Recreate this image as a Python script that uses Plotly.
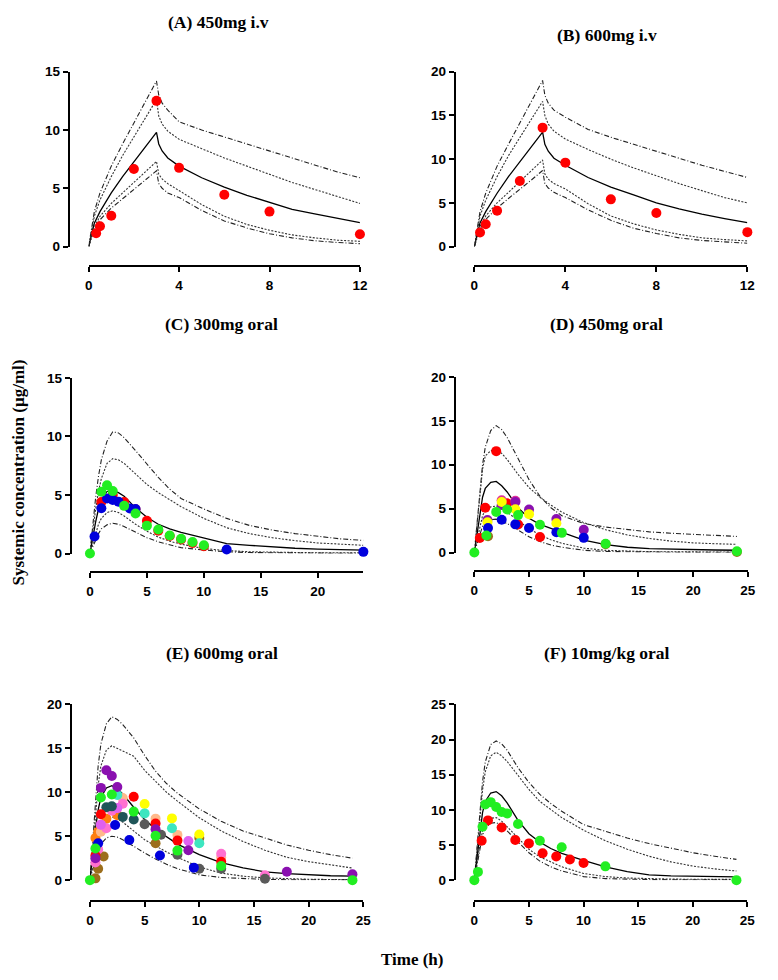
import plotly.graph_objects as go

W, H = 778, 980

# ---------------- DATA ----------------
# IV panels (A, B): time grid for simulated curves
t_iv = [0, 0.25, 0.5, 1, 1.5, 2, 2.5, 3, 3.1, 3.25, 3.5, 4, 5, 6, 7, 8, 9, 10, 11, 12]

A_p95 = [0, 3.0, 4.6, 6.9, 8.8, 10.6, 12.4, 14.2, 13.0, 12.3, 11.7, 10.7, 10.0, 9.4, 8.8, 8.2, 7.6, 7.0, 6.4, 5.9]
A_p90 = [0, 2.6, 4.0, 6.0, 7.8, 9.4, 11.0, 12.6, 11.2, 10.5, 9.9, 9.2, 8.4, 7.6, 6.9, 6.2, 5.5, 4.9, 4.3, 3.7]
A_med = [0, 2.0, 3.0, 4.6, 6.0, 7.3, 8.6, 9.8, 8.8, 8.2, 7.6, 6.9, 5.9, 5.1, 4.4, 3.8, 3.2, 2.8, 2.4, 2.05]
A_p10 = [0, 1.7, 2.6, 3.7, 4.6, 5.5, 6.4, 7.3, 6.2, 5.8, 5.4, 4.8, 3.6, 2.6, 1.9, 1.4, 1.0, 0.75, 0.55, 0.45]
A_p5 = [0, 1.5, 2.3, 3.3, 4.1, 4.9, 5.7, 6.5, 5.4, 5.0, 4.6, 4.2, 3.1, 2.2, 1.6, 1.1, 0.75, 0.5, 0.35, 0.25]
A_obs_t = [0.33, 0.5, 1, 2, 3, 4, 6, 8, 12]
A_obs_y = [1.15, 1.75, 2.65, 6.65, 12.5, 6.75, 4.45, 3.0, 1.05]

B_p95 = [0, 4.0, 6.1, 9.2, 11.7, 14.1, 16.5, 19.0, 17.3, 16.4, 15.6, 14.8, 13.4, 12.5, 11.7, 10.9, 10.1, 9.3, 8.6, 7.9]
B_p90 = [0, 3.5, 5.3, 8.0, 10.4, 12.5, 14.6, 16.6, 15.0, 14.0, 13.2, 12.3, 11.1, 10.0, 9.0, 8.1, 7.2, 6.4, 5.6, 5.0]
B_med = [0, 2.7, 4.0, 6.1, 8.0, 9.7, 11.4, 13.1, 11.7, 10.9, 10.1, 9.3, 7.9, 6.8, 5.9, 5.0, 4.3, 3.7, 3.2, 2.75]
B_p10 = [0, 2.3, 3.5, 5.0, 6.2, 7.4, 8.6, 9.9, 8.3, 7.7, 7.2, 6.6, 4.9, 3.5, 2.6, 1.9, 1.4, 1.0, 0.8, 0.65]
B_p5 = [0, 2.0, 3.1, 4.4, 5.5, 6.5, 7.6, 8.7, 7.2, 6.7, 6.2, 5.6, 4.2, 3.0, 2.1, 1.5, 1.0, 0.7, 0.5, 0.38]
B_obs_t = [0.25, 0.5, 1, 2, 3, 4, 6, 8, 12]
B_obs_y = [1.6, 2.55, 4.1, 7.5, 13.6, 9.6, 5.4, 3.85, 1.65]

# Oral panels (C-F): time grid for simulated curves
t_po = [0, 0.25, 0.5, 0.75, 1, 1.5, 2, 2.5, 3, 4, 5, 6, 7, 8, 10, 12, 14, 16, 18, 20, 22, 24]

C_p95 = [0, 2.5, 4.8, 6.6, 8.0, 9.6, 10.4, 10.3, 9.9, 8.8, 7.6, 6.5, 5.5, 4.7, 3.8, 3.0, 2.4, 2.0, 1.7, 1.45, 1.25, 1.12]
C_p90 = [0, 2.0, 3.8, 5.3, 6.4, 7.7, 8.1, 8.0, 7.7, 6.8, 5.9, 5.2, 4.6, 4.0, 3.0, 2.2, 1.7, 1.35, 1.1, 0.9, 0.8, 0.7]
C_med = [0, 1.4, 2.7, 3.8, 4.6, 5.3, 5.4, 5.2, 4.9, 3.9, 3.1, 2.5, 2.1, 1.8, 1.35, 0.85, 0.7, 0.55, 0.45, 0.38, 0.32, 0.28]
C_p10 = [0, 0.9, 1.8, 2.5, 3.0, 3.5, 3.65, 3.5, 3.2, 2.5, 1.9, 1.4, 1.05, 0.8, 0.42, 0.25, 0.15, 0.1, 0.08, 0.06, 0.05, 0.05]
C_p5 = [0, 0.6, 1.2, 1.7, 2.1, 2.45, 2.58, 2.5, 2.3, 1.8, 1.35, 1.0, 0.72, 0.5, 0.3, 0.15, 0.08, 0.05, 0.03, 0.02, 0.02, 0.02]
C_red_t = [1, 2, 3, 4, 5, 6, 7, 8, 9, 10]
C_red_y = [4.4, 5.0, 4.4, 3.78, 2.8, 1.95, 1.5, 1.2, 0.9, 0.62]
C_blue_t = [0.4, 1, 1.5, 2, 2.5, 3.5, 4, 12, 24]
C_blue_y = [1.46, 3.87, 4.7, 4.57, 4.43, 3.84, 3.8, 0.34, 0.14]
C_green_t = [0, 1, 1.5, 2, 3, 4, 5, 6, 7, 8, 9, 10]
C_green_y = [0, 5.27, 5.83, 5.33, 4.07, 3.42, 2.38, 2.05, 1.54, 1.26, 0.98, 0.7]

D_p95 = [0, 3.5, 7.0, 10.0, 12.0, 13.9, 14.45, 14.0, 13.1, 10.7, 8.3, 6.4, 5.1, 4.2, 3.3, 2.9, 2.6, 2.35, 2.2, 2.05, 1.9, 1.83]
D_p90 = [0, 3.0, 6.5, 9.5, 11.0, 11.6, 11.7, 11.3, 10.6, 8.9, 7.4, 6.3, 5.4, 4.6, 3.4, 2.6, 2.0, 1.6, 1.3, 1.1, 1.0, 0.93]
D_med = [0, 2.2, 4.5, 6.3, 7.3, 8.0, 8.1, 7.6, 6.9, 5.1, 3.9, 3.2, 2.75, 2.3, 1.4, 0.9, 0.6, 0.45, 0.38, 0.33, 0.29, 0.26]
D_p10 = [0, 1.5, 3.0, 4.2, 4.8, 5.2, 5.3, 5.0, 4.6, 3.6, 2.7, 2.0, 1.45, 1.05, 0.5, 0.25, 0.15, 0.1, 0.08, 0.06, 0.05, 0.05]
D_p5 = [0, 1.1, 2.2, 3.0, 3.5, 3.75, 3.8, 3.6, 3.3, 2.5, 1.8, 1.25, 0.85, 0.6, 0.26, 0.12, 0.07, 0.04, 0.03, 0.02, 0.02, 0.02]
D_olive_t = [1.25, 12, 24]
D_olive_y = [1.86, 0.95, 0.05]
D_red_t = [0.5, 1, 2, 3, 4, 6]
D_red_y = [1.65, 5.1, 11.55, 5.6, 3.2, 1.76]
D_magenta_t = [2.5, 3.75]
D_magenta_y = [5.95, 5.9]
D_purple_t = [1.2, 2.5, 3.75, 5, 7.5, 10]
D_purple_y = [3.7, 5.4, 5.76, 4.9, 3.81, 2.6]
D_yellow_t = [1.2, 2.5, 3.75, 5, 7.5]
D_yellow_y = [3.44, 5.75, 4.93, 4.37, 3.33]
D_blue_t = [1.25, 2.5, 3.75, 5, 7.5, 10]
D_blue_y = [2.8, 3.73, 3.21, 2.8, 2.3, 1.67]
D_green_t = [0, 1.1, 2, 3, 4, 6, 8, 12, 24]
D_green_y = [0, 1.94, 4.63, 4.9, 4.26, 3.17, 2.24, 1.0, 0.15]

E_p95 = [0, 4.5, 9.0, 13.0, 15.5, 17.8, 18.6, 18.3, 17.7, 16.2, 14.2, 12.4, 11.0, 9.9, 8.1, 6.7, 5.6, 4.8, 4.0, 3.4, 2.9, 2.5]
E_p90 = [0, 3.8, 7.5, 10.8, 13.0, 14.8, 15.3, 15.0, 14.7, 14.1, 12.5, 11.2, 10.0, 9.0, 7.1, 5.6, 4.4, 3.4, 2.6, 2.1, 1.7, 1.38]
E_med = [0, 3.0, 5.8, 8.0, 9.4, 10.5, 10.75, 10.4, 9.8, 8.3, 6.9, 5.8, 4.9, 4.1, 2.9, 2.0, 1.4, 0.95, 0.75, 0.6, 0.5, 0.45]
E_p10 = [0, 1.8, 3.6, 5.0, 6.0, 6.9, 7.2, 7.0, 6.6, 5.6, 4.6, 3.9, 3.2, 2.6, 1.5, 0.8, 0.45, 0.25, 0.15, 0.1, 0.07, 0.05]
E_p5 = [0, 1.2, 2.4, 3.4, 4.1, 4.8, 5.0, 4.9, 4.6, 3.8, 3.1, 2.4, 1.8, 1.3, 0.6, 0.3, 0.15, 0.08, 0.05, 0.04, 0.03, 0.03]
E_olive_t = [0.5, 0.75, 1.25, 6, 10]
E_olive_y = [0.2, 1.3, 2.7, 4.2, 4.8]
E_orange_t = [0.5, 0.75, 1.5, 2.5]
E_orange_y = [4.8, 5.5, 7.0, 7.4]
E_peach_t = [1, 3, 6, 8, 12]
E_peach_y = [5.5, 9.35, 7.0, 5.15, 2.6]
E_yellow_t = [5, 7.5, 10]
E_yellow_y = [8.67, 7.03, 5.2]
E_turq_t = [2.5, 5, 7.5, 10]
E_turq_y = [9.7, 7.6, 5.9, 4.2]
E_pink_t = [0.5, 0.75, 1, 1.5, 2, 3, 12, 16]
E_pink_y = [2.0, 3.5, 6.3, 5.9, 7.9, 8.7, 3.0, 0.56]
E_magenta_t = [1, 2.5, 9]
E_magenta_y = [6.3, 8.2, 4.45]
E_slate_t = [1.5, 2, 3, 4]
E_slate_y = [8.3, 8.4, 7.2, 6.9]
E_grey_t = [5, 6.5, 8, 10, 12, 16]
E_grey_y = [6.36, 5.16, 2.9, 1.3, 1.3, 0.15]
E_blue_t = [0.75, 2.3, 3.6, 6.4, 9.5]
E_blue_y = [4.2, 6.28, 4.56, 2.8, 1.42]
E_red_t = [0.5, 1, 4, 6, 8, 12]
E_red_y = [2.8, 7.5, 9.5, 6.45, 4.5, 2.08]
E_purple_t = [0.5, 1, 1.5, 2, 2.5, 6, 9, 18, 24]
E_purple_y = [2.5, 10.5, 12.5, 11.85, 10.6, 5.8, 3.4, 0.95, 0.67]
E_green_t = [0, 0.5, 1, 2, 4, 6, 8, 12, 24]
E_green_y = [0, 3.6, 9.4, 9.75, 7.8, 5.05, 3.36, 1.6, 0]

F_p95 = [0, 5.0, 10.0, 14.0, 16.8, 19.3, 19.8, 19.4, 18.5, 16.0, 13.9, 12.2, 10.9, 9.8, 7.9, 6.9, 6.0, 5.2, 4.5, 3.9, 3.4, 2.95]
F_p90 = [0, 4.5, 9.0, 12.8, 15.4, 17.7, 18.2, 17.7, 16.9, 14.9, 12.9, 11.2, 10.0, 8.9, 7.1, 5.6, 4.4, 3.4, 2.6, 2.0, 1.6, 1.3]
F_med = [0, 3.5, 7.0, 9.6, 11.2, 12.4, 12.6, 12.0, 11.0, 8.5, 6.6, 5.4, 4.5, 3.8, 2.8, 1.9, 1.2, 0.75, 0.6, 0.55, 0.5, 0.47]
F_p10 = [0, 2.6, 5.0, 7.0, 8.0, 8.8, 8.9, 8.4, 7.6, 6.0, 4.4, 3.3, 2.6, 1.9, 0.95, 0.5, 0.3, 0.2, 0.15, 0.12, 0.1, 0.1]
F_p5 = [0, 2.3, 4.6, 6.4, 7.4, 8.1, 8.2, 7.7, 7.0, 5.4, 3.9, 2.7, 1.9, 1.3, 0.5, 0.22, 0.12, 0.08, 0.06, 0.05, 0.05, 0.05]
F_red_t = [0.67, 1.25, 2.5, 3.75, 5, 6.25, 7.5, 8.75, 10]
F_red_y = [5.6, 8.5, 7.48, 5.7, 5.23, 3.83, 3.36, 2.94, 2.43]
F_green_t = [0, 0.33, 0.75, 1, 1.5, 2, 2.5, 3, 4, 6, 8, 12, 24]
F_green_y = [0, 1.17, 7.6, 10.75, 11.1, 10.4, 9.7, 9.5, 8.0, 5.6, 4.67, 1.96, 0]

titles = ["(A) 450mg i.v", "(B) 600mg i.v", "(C) 300mg oral",
          "(D) 450mg oral", "(E) 600mg oral", "(F) 10mg/kg oral"]
x_ticks = [[0, 4, 8, 12], [0, 4, 8, 12], [0, 5, 10, 15, 20],
           [0, 5, 10, 15, 20, 25], [0, 5, 10, 15, 20, 25], [0, 5, 10, 15, 20, 25]]
x_max = [12, 12, 24, 25, 25, 25]
y_ticks = [[0, 5, 10, 15], [0, 5, 10, 15, 20], [0, 5, 10, 15],
           [0, 5, 10, 15, 20], [0, 5, 10, 15, 20], [0, 5, 10, 15, 20, 25]]
y_label = "Systemic concentration (µg/ml)"
x_label = "Time (h)"

# ---------------- COLOURS / STYLES ----------------
COL = {
    "red": "#ff0000", "green": "#22ee22", "blue": "#0000dd", "yellow": "#ffff00",
    "purple": "#8a10b0", "magenta": "#e0309a", "olive": "#9c6e1c", "orange": "#ff7f10",
    "peach": "#ffb98a", "turq": "#3de6c0", "pink": "#ff70d0", "slate": "#1f5558",
    "grey": "#5a5a5a", "violet": "#e060f0",
}

panels = [
    dict(t=t_iv, curves=[A_p95, A_p90, A_med, A_p10, A_p5],
         dots=[(A_obs_t, A_obs_y, "red")]),
    dict(t=t_iv, curves=[B_p95, B_p90, B_med, B_p10, B_p5],
         dots=[(B_obs_t, B_obs_y, "red")]),
    dict(t=t_po, curves=[C_p95, C_p90, C_med, C_p10, C_p5],
         dots=[(C_red_t, C_red_y, "red"), (C_blue_t, C_blue_y, "blue"),
               (C_green_t, C_green_y, "green")]),
    dict(t=t_po, curves=[D_p95, D_p90, D_med, D_p10, D_p5],
         dots=[(D_olive_t, D_olive_y, "olive"), (D_red_t, D_red_y, "red"),
               (D_magenta_t, D_magenta_y, "magenta"), (D_purple_t, D_purple_y, "purple"),
               (D_yellow_t, D_yellow_y, "yellow"), (D_blue_t, D_blue_y, "blue"),
               (D_green_t, D_green_y, "green")]),
    dict(t=t_po, curves=[E_p95, E_p90, E_med, E_p10, E_p5],
         dots=[(E_olive_t, E_olive_y, "olive"), (E_orange_t, E_orange_y, "orange"),
               (E_peach_t, E_peach_y, "peach"), (E_yellow_t, E_yellow_y, "yellow"),
               (E_turq_t, E_turq_y, "turq"), (E_pink_t, E_pink_y, "pink"),
               (E_magenta_t, E_magenta_y, "violet"), (E_slate_t, E_slate_y, "slate"),
               (E_grey_t, E_grey_y, "grey"), (E_blue_t, E_blue_y, "blue"),
               (E_red_t, E_red_y, "red"), (E_purple_t, E_purple_y, "purple"),
               (E_green_t, E_green_y, "green")]),
    dict(t=t_po, curves=[F_p95, F_p90, F_med, F_p10, F_p5],
         dots=[(F_red_t, F_red_y, "red"), (F_green_t, F_green_y, "green")]),
]

# pixel geometry: (x0, x1, y_top, y_bottom, yaxis_x, xaxis_y, title_x, title_y)
geom = [
    (86.0, 361.5, 65.7, 243.3, 65.7, 263, 218, 15),
    (477.7, 755.0, 65.7, 243.3, 457.7, 263, 612, 28),
    (87.3, 365.0, 376.7, 555.0, 67.7, 574, 221, 322),
    (477.7, 755.5, 375.7, 554.0, 457.7, 573, 612, 322),
    (87.3, 365.0, 708.3, 886.7, 67.7, 908, 221, 656),
    (477.7, 755.0, 708.3, 886.7, 457.7, 908, 612, 656),
]

line_styles = [
    dict(color="#222222", width=1.1, dash="5px,2px,1px,2px"),
    dict(color="#333333", width=1.1, dash="2px,1.5px"),
    dict(color="#000000", width=1.3, dash="solid"),
    dict(color="#333333", width=1.1, dash="2px,1.5px"),
    dict(color="#222222", width=1.1, dash="5px,2px,1px,2px"),
]

fx = lambda px: px / W
fy = lambda py: 1 - py / H

fig = go.Figure()
layout = dict(
    width=W, height=H, margin=dict(l=0, r=0, t=0, b=0),
    paper_bgcolor="white", plot_bgcolor="white", showlegend=False,
    annotations=[], hovermode=False,
)

tickfont = dict(family="Liberation Sans, Arial", size=13.5, color="black", weight="bold")

for i, (p, g) in enumerate(zip(panels, geom)):
    n = "" if i == 0 else str(i + 1)
    xa, ya = "x" + n, "y" + n
    x0, x1, yt, yb, yax, xay, tx, ty = g
    for c, st in zip(p["curves"], line_styles):
        fig.add_trace(go.Scatter(x=p["t"], y=c, mode="lines", line=st,
                                 xaxis=xa, yaxis=ya, hoverinfo="skip"))
    for dt, dy, cname in p["dots"]:
        fig.add_trace(go.Scatter(x=dt, y=dy, mode="markers", cliponaxis=False,
                                 marker=dict(size=10, color=COL[cname], line=dict(width=0)),
                                 xaxis=xa, yaxis=ya))
    layout["xaxis" + n] = dict(
        domain=[fx(x0), fx(x1)], range=[0, x_max[i]], anchor="free", position=fy(xay),
        tickvals=x_ticks[i], ticktext=[str(v) for v in x_ticks[i]],
        showline=True, linecolor="black", linewidth=2, ticks="outside", ticklen=5,
        tickwidth=2, tickcolor="black", showgrid=False, zeroline=False,
        tickfont=tickfont, fixedrange=True, ticklabelstandoff=2,
    )
    layout["yaxis" + n] = dict(
        domain=[fy(yb), fy(yt)], range=[0, y_ticks[i][-1]], anchor="free", position=fx(yax),
        tickvals=y_ticks[i], ticktext=[str(v) for v in y_ticks[i]],
        showline=True, linecolor="black", linewidth=2, ticks="outside", ticklen=5,
        tickwidth=2, tickcolor="black", showgrid=False, zeroline=False,
        tickfont=tickfont, fixedrange=True,
    )
    layout["annotations"].append(dict(
        text="<b>%s</b>" % titles[i], x=fx(tx), y=fy(ty), xref="paper", yref="paper",
        xanchor="center", yanchor="middle", showarrow=False,
        font=dict(family="Liberation Serif, Times New Roman", size=17.5, color="black")))

layout["annotations"].append(dict(
    text="<b>%s</b>" % y_label, x=fx(15), y=fy(473), xref="paper", yref="paper",
    xanchor="center", yanchor="middle", textangle=-90, showarrow=False,
    font=dict(family="Liberation Serif, Times New Roman", size=17, color="black")))
layout["annotations"].append(dict(
    text="<b>%s</b>" % x_label, x=fx(415), y=fy(967), xref="paper", yref="paper",
    xanchor="center", yanchor="middle", showarrow=False,
    font=dict(family="Liberation Serif, Times New Roman", size=17, color="black")))

fig.update_layout(**layout)
fig.write_html("out.html", config={"displayModeBar": False},
               post_script="document.body.style.margin='0';")
